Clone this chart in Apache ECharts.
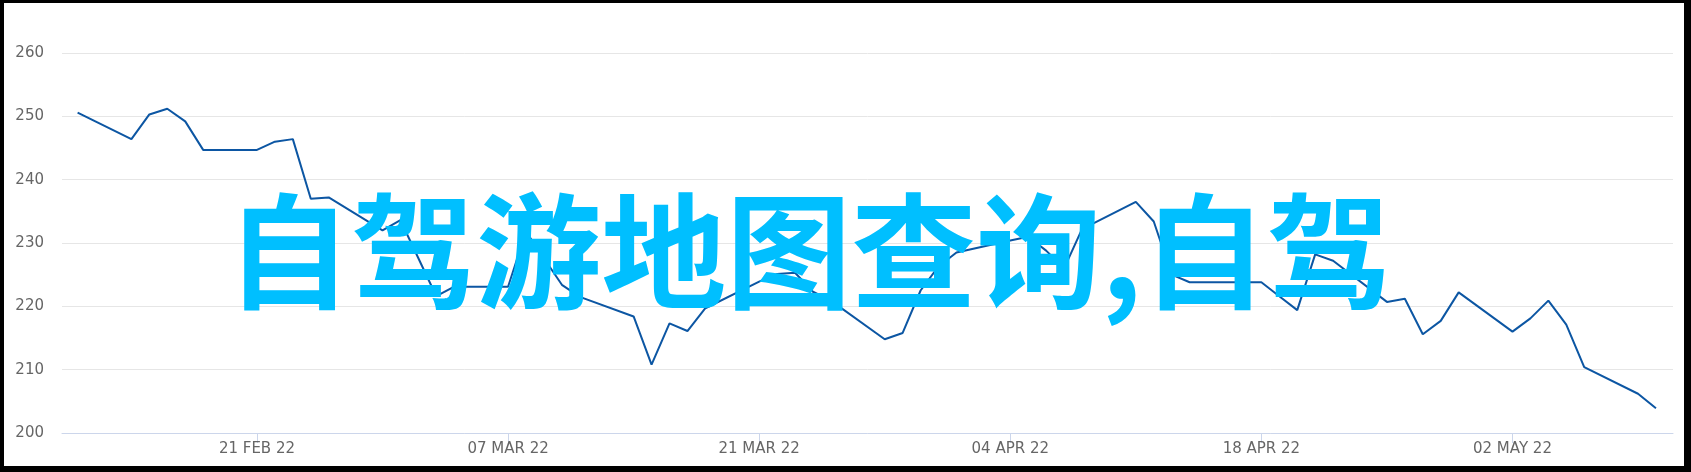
<!DOCTYPE html>
<html>
<head>
<meta charset="utf-8">
<script src="https://cdn.jsdelivr.net/npm/echarts@6/dist/echarts.min.js"></script>
<style>
  html, body { margin: 0; padding: 0; background: #fff; }
  #wrap { position: relative; width: 1691px; height: 472px; }
  #main { width: 1691px; height: 472px; }
  #frame {
    position: absolute; left: 0; top: 0; width: 1691px; height: 472px;
    box-sizing: border-box; border-style: solid; border-color: #000;
    border-width: 3px 7px 6px 4px; pointer-events: none;
  }
</style>
</head>
<body>
<div id="wrap">
  <div id="main"></div>
  <div id="frame"></div>
</div>
<script>
// trading days (weekdays) and closing values
var dates = [
  '2022-02-11', '2022-02-14', '2022-02-15', '2022-02-16', '2022-02-17', '2022-02-18',
  '2022-02-21', '2022-02-22', '2022-02-23', '2022-02-24', '2022-02-25',
  '2022-02-28', '2022-03-01', '2022-03-02', '2022-03-03', '2022-03-04',
  '2022-03-07', '2022-03-08', '2022-03-09', '2022-03-10', '2022-03-11',
  '2022-03-14', '2022-03-15', '2022-03-16', '2022-03-17', '2022-03-18',
  '2022-03-21', '2022-03-22', '2022-03-23', '2022-03-24', '2022-03-25',
  '2022-03-28', '2022-03-29', '2022-03-30', '2022-03-31', '2022-04-01',
  '2022-04-04', '2022-04-05', '2022-04-06', '2022-04-07', '2022-04-08',
  '2022-04-11', '2022-04-12', '2022-04-13', '2022-04-14', '2022-04-15',
  '2022-04-18', '2022-04-19', '2022-04-20', '2022-04-21', '2022-04-22',
  '2022-04-25', '2022-04-26', '2022-04-27', '2022-04-28', '2022-04-29',
  '2022-05-02', '2022-05-03', '2022-05-04', '2022-05-05', '2022-05-06',
  '2022-05-09', '2022-05-10'
];
var values = [
  250.6, 246.4, 250.3, 251.2, 249.2, 244.7,
  244.7, 246.0, 246.4, 237.0, 237.2,
  232.0, 233.6, 227.6, 221.6, 223.1,
  223.1, 231.8, 227.6, 223.4, 221.5,
  218.4, 210.8, 217.3, 216.1, 219.7,
  223.9, 225.1, 225.3, 222.3, 220.9,
  214.8, 215.8, 222.5, 226.3, 228.5,
  230.4, 231.0, 228.8, 226.0, 232.2,
  236.5, 233.4, 225.0, 223.8, 223.8,
  223.8, 221.6, 219.4, 228.2, 227.2,
  220.7, 221.2, 215.6, 217.7, 222.2,
  216.0, 218.1, 220.9, 217.1, 210.4,
  206.2, 203.9
];
var tickDates = ['2022-02-21', '2022-03-07', '2022-03-21', '2022-04-04', '2022-04-18', '2022-05-02'];
var tickLabels = ['21 FEB 22', '07 MAR 22', '21 MAR 22', '04 APR 22', '18 APR 22', '02 MAY 22'];
var overlayText = '自驾游地图查询,自驾';

// x axis counts days from 21 Feb 2022
var base = Date.parse('2022-02-21');
function dayOf(d) {
    return Math.round((Date.parse(d) - base) / 86400000);
}
var tickDays = tickDates.map(dayOf);
var lineData = [];
dates.map(function (d, i) {
    lineData.push([dayOf(d), values[i]]);
});

var chart = echarts.init(document.getElementById('main'));
var option = {
    animation: false,
    backgroundColor: '#fff',
    grid: { left: 62, right: 18, top: 53, bottom: 39, containLabel: false },
    xAxis: {
        type: 'value',
        min: -10.87,
        max: 78.95,
        splitLine: { show: false },
        axisLine: { show: true, lineStyle: { color: '#ccd6eb', width: 1 } },
        axisTick: {
            show: true, length: 10, customValues: tickDays,
            lineStyle: { color: '#ccd6eb', width: 1 }
        },
        axisLabel: {
            customValues: tickDays,
            color: '#666666',
            fontFamily: 'DejaVu Sans',
            fontSize: 15,
            margin: 9,
            formatter: function (v) {
                var k = tickDays.indexOf(Math.round(v));
                return k === -1 ? '' : tickLabels[k];
            }
        }
    },
    yAxis: {
        type: 'value',
        min: 200,
        max: 260,
        interval: 10,
        axisLine: { show: false },
        axisTick: { show: false },
        splitLine: { show: true, lineStyle: { color: '#e6e6e6', width: 1 } },
        axisLabel: {
            color: '#666666',
            fontFamily: 'DejaVu Sans',
            fontSize: 15,
            margin: 18
        }
    },
    series: [{
        type: 'line',
        data: lineData,
        symbol: 'none',
        lineStyle: { color: '#0c56a3', width: 2 }
    }],
    graphic: [{
        type: 'text',
        x: 809,
        y: 251,
        z: 100,
        style: {
            text: overlayText,
            font: 'bold 125px "Noto Sans CJK SC"',
            fill: '#00bfff',
            textAlign: 'center',
            textVerticalAlign: 'middle'
        }
    }]
};
chart.setOption(option);
</script>
</body>
</html>
